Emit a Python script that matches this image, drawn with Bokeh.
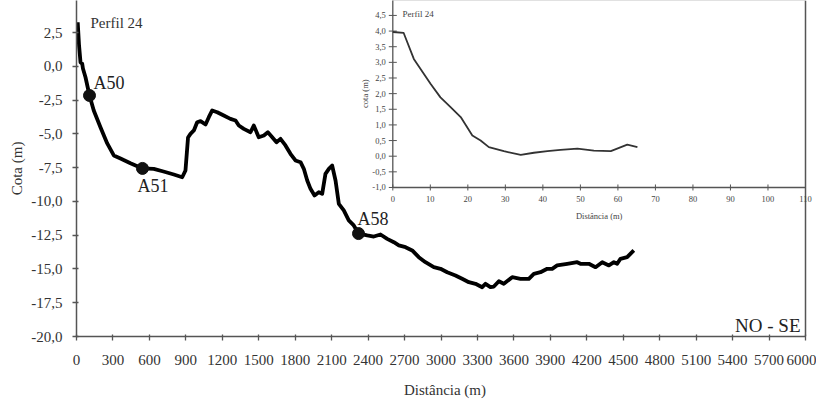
import math
from bokeh.plotting import figure
from bokeh.models import Range1d, FixedTicker, Span, LabelSet, ColumnDataSource
from bokeh.embed import file_html
from bokeh.resources import INLINE
from bokeh.core.properties import value

# ---------------- data: main profile ----------------
main_dist = [10, 21, 33, 47, 53, 74, 107, 142, 198, 253, 307, 362, 444, 543, 636, 716, 801, 870,
             897, 918, 938, 966, 993, 1021, 1062, 1089, 1117, 1158, 1212, 1267, 1309, 1336, 1377,
             1432, 1459, 1500, 1542, 1575, 1611, 1646, 1679, 1720, 1761, 1802, 1844, 1871, 1899,
             1926, 1959, 1994, 2022, 2049, 2077, 2104, 2132, 2159, 2200, 2241, 2282, 2321, 2393,
             2447, 2502, 2557, 2612, 2653, 2708, 2763, 2817, 2872, 2941, 2996, 3051, 3119, 3174,
             3229, 3284, 3339, 3366, 3407, 3435, 3476, 3517, 3586, 3654, 3723, 3764, 3819, 3874,
             3915, 3956, 4039, 4121, 4148, 4217, 4272, 4327, 4382, 4423, 4450, 4477, 4532, 4587]
main_cota = [3.26, 1.54, 0.30, 0.19, -0.16, -0.81, -2.16, -3.27, -4.53, -5.71, -6.60, -6.82, -7.17,
             -7.56, -7.59, -7.79, -8.01, -8.21, -7.71, -5.27, -5.00, -4.75, -4.14, -4.06, -4.31,
             -3.77, -3.27, -3.40, -3.64, -3.89, -4.01, -4.38, -4.63, -4.88, -4.38, -5.25, -5.12,
             -4.88, -5.25, -5.62, -5.37, -5.86, -6.48, -6.97, -7.10, -7.59, -8.45, -9.07, -9.56,
             -9.32, -9.44, -7.96, -7.59, -7.34, -8.45, -10.18, -10.67, -11.41, -11.78, -12.38,
             -12.52, -12.60, -12.45, -12.77, -13.02, -13.26, -13.39, -13.63, -14.13, -14.50,
             -14.87, -14.99, -15.24, -15.48, -15.73, -15.98, -16.10, -16.35, -16.10, -16.35,
             -16.30, -15.91, -16.10, -15.61, -15.73, -15.73, -15.36, -15.24, -14.99, -14.99,
             -14.74, -14.62, -14.50, -14.62, -14.62, -14.87, -14.50, -14.74, -14.50, -14.62,
             -14.25, -14.13, -13.63]

sample_names = ["A50", "A51", "A58"]
sample_dist = [107, 543, 2321]
sample_cota = [-2.16, -7.56, -12.38]

x_ticks = list(range(0, 6001, 300))
y_ticks = [-20.0, -17.5, -15.0, -12.5, -10.0, -7.5, -5.0, -2.5, 0.0, 2.5, 5.0]
y_tick_labels = ["-20,0", "-17,5", "-15,0", "-12,5", "-10,0", "-7,5", "-5,0", "-2,5", "0,0", "2,5", "5,0"]

# ---------------- data: inset profile ----------------
inset_dist = [0, 2.9, 5.6, 10.1, 12.7, 15.4, 18.1, 21.2, 23.4, 25.6, 29.6, 34.1, 37.6, 41.2, 44.7,
              49.2, 53.6, 58.1, 59.8, 62.5, 65.2]
inset_cota = [3.97, 3.94, 3.11, 2.31, 1.88, 1.57, 1.25, 0.66, 0.50, 0.29, 0.16, 0.04, 0.11, 0.16,
              0.20, 0.24, 0.18, 0.16, 0.24, 0.37, 0.29]
inset_x_ticks = [0, 10, 20, 30, 40, 50, 60, 70, 80, 90, 100, 110]
inset_x_labels = ["0", "10", "20", "30", "40", "50", "60", "70", "80", "90", "100", "110"]
inset_y_ticks = [-1.0, -0.5, 0.0, 0.5, 1.0, 1.5, 2.0, 2.5, 3.0, 3.5, 4.0, 4.5]
inset_y_labels = ["-1,0", "-0,5", "0,0", "0,5", "1,0", "1,5", "2,0", "2,5", "3,0", "3,5", "4,0", "4,5"]

SERIF = "Liberation Serif"
AX = "#555555"
TXT = "#333333"

X_MAX = 6000
FRAME_W_AXIS = 729          # pixels from 0 to 6000
FRAME_W = 737               # a little extra room on the right for the inset's last label
x_end = X_MAX * FRAME_W / FRAME_W_AXIS

p = figure(frame_width=FRAME_W, frame_height=336, output_backend="svg", toolbar_location=None,
           x_range=Range1d(0, x_end), y_range=Range1d(-20, 4.87),
           min_border_left=76, min_border_right=3, min_border_top=0, min_border_bottom=66,
           background_fill_color="white", border_fill_color="white")
p.outline_line_color = None
p.grid.visible = False

p.xaxis.ticker = FixedTicker(ticks=x_ticks)
p.xaxis.bounds = (0, X_MAX)
p.yaxis.ticker = FixedTicker(ticks=y_ticks)
p.yaxis.major_label_overrides = {t: l for t, l in zip(y_ticks, y_tick_labels)}
for ax in (p.xaxis[0], p.yaxis[0]):
    ax.axis_line_color = AX
    ax.axis_line_width = 1.5
    ax.major_tick_line_color = AX
    ax.major_tick_line_width = 1.3
    ax.major_tick_in = 2
    ax.major_tick_out = 4
    ax.minor_tick_line_color = None
    ax.major_label_text_font = SERIF
    ax.major_label_text_font_size = "15px"
    ax.major_label_text_color = TXT
    ax.axis_label_text_font = SERIF
    ax.axis_label_text_font_size = "15px"
    ax.axis_label_text_font_style = "normal"
    ax.axis_label_text_color = TXT
p.xaxis.axis_label = "Distância (m)"
p.yaxis.axis_label = "Cota (m)"
p.xaxis.major_label_standoff = 14
p.xaxis.axis_label_standoff = 14
p.yaxis.major_label_standoff = 10
p.yaxis.axis_label_standoff = 3

p.add_layout(Span(location=X_MAX, dimension="height", line_color=AX, line_width=1.5))

# main profile
p.line(main_dist, main_cota, line_color="black", line_width=3.8, line_join="round")
p.scatter(sample_dist, sample_cota, size=12, color="#111111")
offsets = [(4, -12), (-5, 18), (-1, -14.5)]
for name, d, c, (ox, oy) in zip(sample_names, sample_dist, sample_cota, offsets):
    p.text([d], [c], text=[name], x_offset=ox, y_offset=oy, text_font=value(SERIF),
           text_font_size="18px", text_color="#222222", text_baseline="middle", text_align="left")

p.text([115], [3.24], text=["Perfil 24"], text_font=value(SERIF), text_font_size="15px",
       text_color=TXT, text_baseline="middle")
p.text([5959], [-19.19], text=["NO - SE"], text_font=value(SERIF), text_font_size="19px",
       text_color="#222222", text_baseline="middle", text_align="right")

# ---------------- inset drawn through extra ranges ----------------
ix0, ix1 = 0, 110
iy0, iy1 = -1.0, 5.0
fx0 = 316.3 / FRAME_W                 # inset frame placement (fraction of main frame width)
fx1 = FRAME_W_AXIS / FRAME_W
fy0, fy1 = 0.4435, 1.0021             # inset frame placement (fraction of main frame height)
sx = (ix1 - ix0) / (fx1 - fx0)
sy = (iy1 - iy0) / (fy1 - fy0)
p.extra_x_ranges = {"ix": Range1d(ix0 - fx0 * sx, ix0 + (1 - fx0) * sx)}
p.extra_y_ranges = {"iy": Range1d(iy0 - fy0 * sy, iy0 + (1 - fy0) * sy)}
R = dict(x_range_name="ix", y_range_name="iy")

# inset axes lines
p.segment(x0=[ix0, ix0], y0=[iy0, iy0], x1=[ix1, ix0], y1=[iy0, iy1], line_color=AX, line_width=1.3, **R)
p.segment(x0=[ix0], y0=[iy1], x1=[ix1], y1=[iy1], line_color="#888888", line_width=1.3, **R)
p.scatter(inset_x_ticks, [iy0] * len(inset_x_ticks), marker="dash", angle=math.pi / 2, size=6,
          line_color=AX, line_width=1, **R)
p.scatter([ix0] * len(inset_y_ticks), inset_y_ticks, marker="dash", size=8,
          line_color=AX, line_width=1, **R)

xsrc = ColumnDataSource(dict(x=inset_x_ticks, y=[iy0] * len(inset_x_ticks), t=inset_x_labels))
p.add_layout(LabelSet(x="x", y="y", text="t", source=xsrc, text_font=value(SERIF),
                      text_font_size="8.5px", text_color="#444444", text_align="center",
                      text_baseline="top", y_offset=-9, **R))
ysrc = ColumnDataSource(dict(x=[ix0] * len(inset_y_ticks), y=inset_y_ticks, t=inset_y_labels))
p.add_layout(LabelSet(x="x", y="y", text="t", source=ysrc, text_font=value(SERIF),
                      text_font_size="8.5px", text_color="#444444", text_align="right",
                      text_baseline="middle", x_offset=-7, **R))
p.text([(ix0 + ix1) / 2], [iy0], text=["Distância (m)"], text_font=value(SERIF),
       text_font_size="8.5px", text_color="#444444", text_align="center", text_baseline="middle",
       y_offset=29, **R)
p.text([ix0], [(iy0 + iy1) / 2], text=["cota (m)"], text_font=value(SERIF), angle=math.pi / 2,
       text_font_size="8.5px", text_color="#444444", text_align="center", text_baseline="middle",
       x_offset=-28, **R)
p.text([2.6], [4.54], text=["Perfil 24"], text_font=value(SERIF), text_font_size="9px",
       text_color="#444444", text_baseline="middle", **R)

p.line(inset_dist, inset_cota, line_color="#333333", line_width=1.8, line_join="round", **R)

open("out.html", "w").write(file_html(p, INLINE))
